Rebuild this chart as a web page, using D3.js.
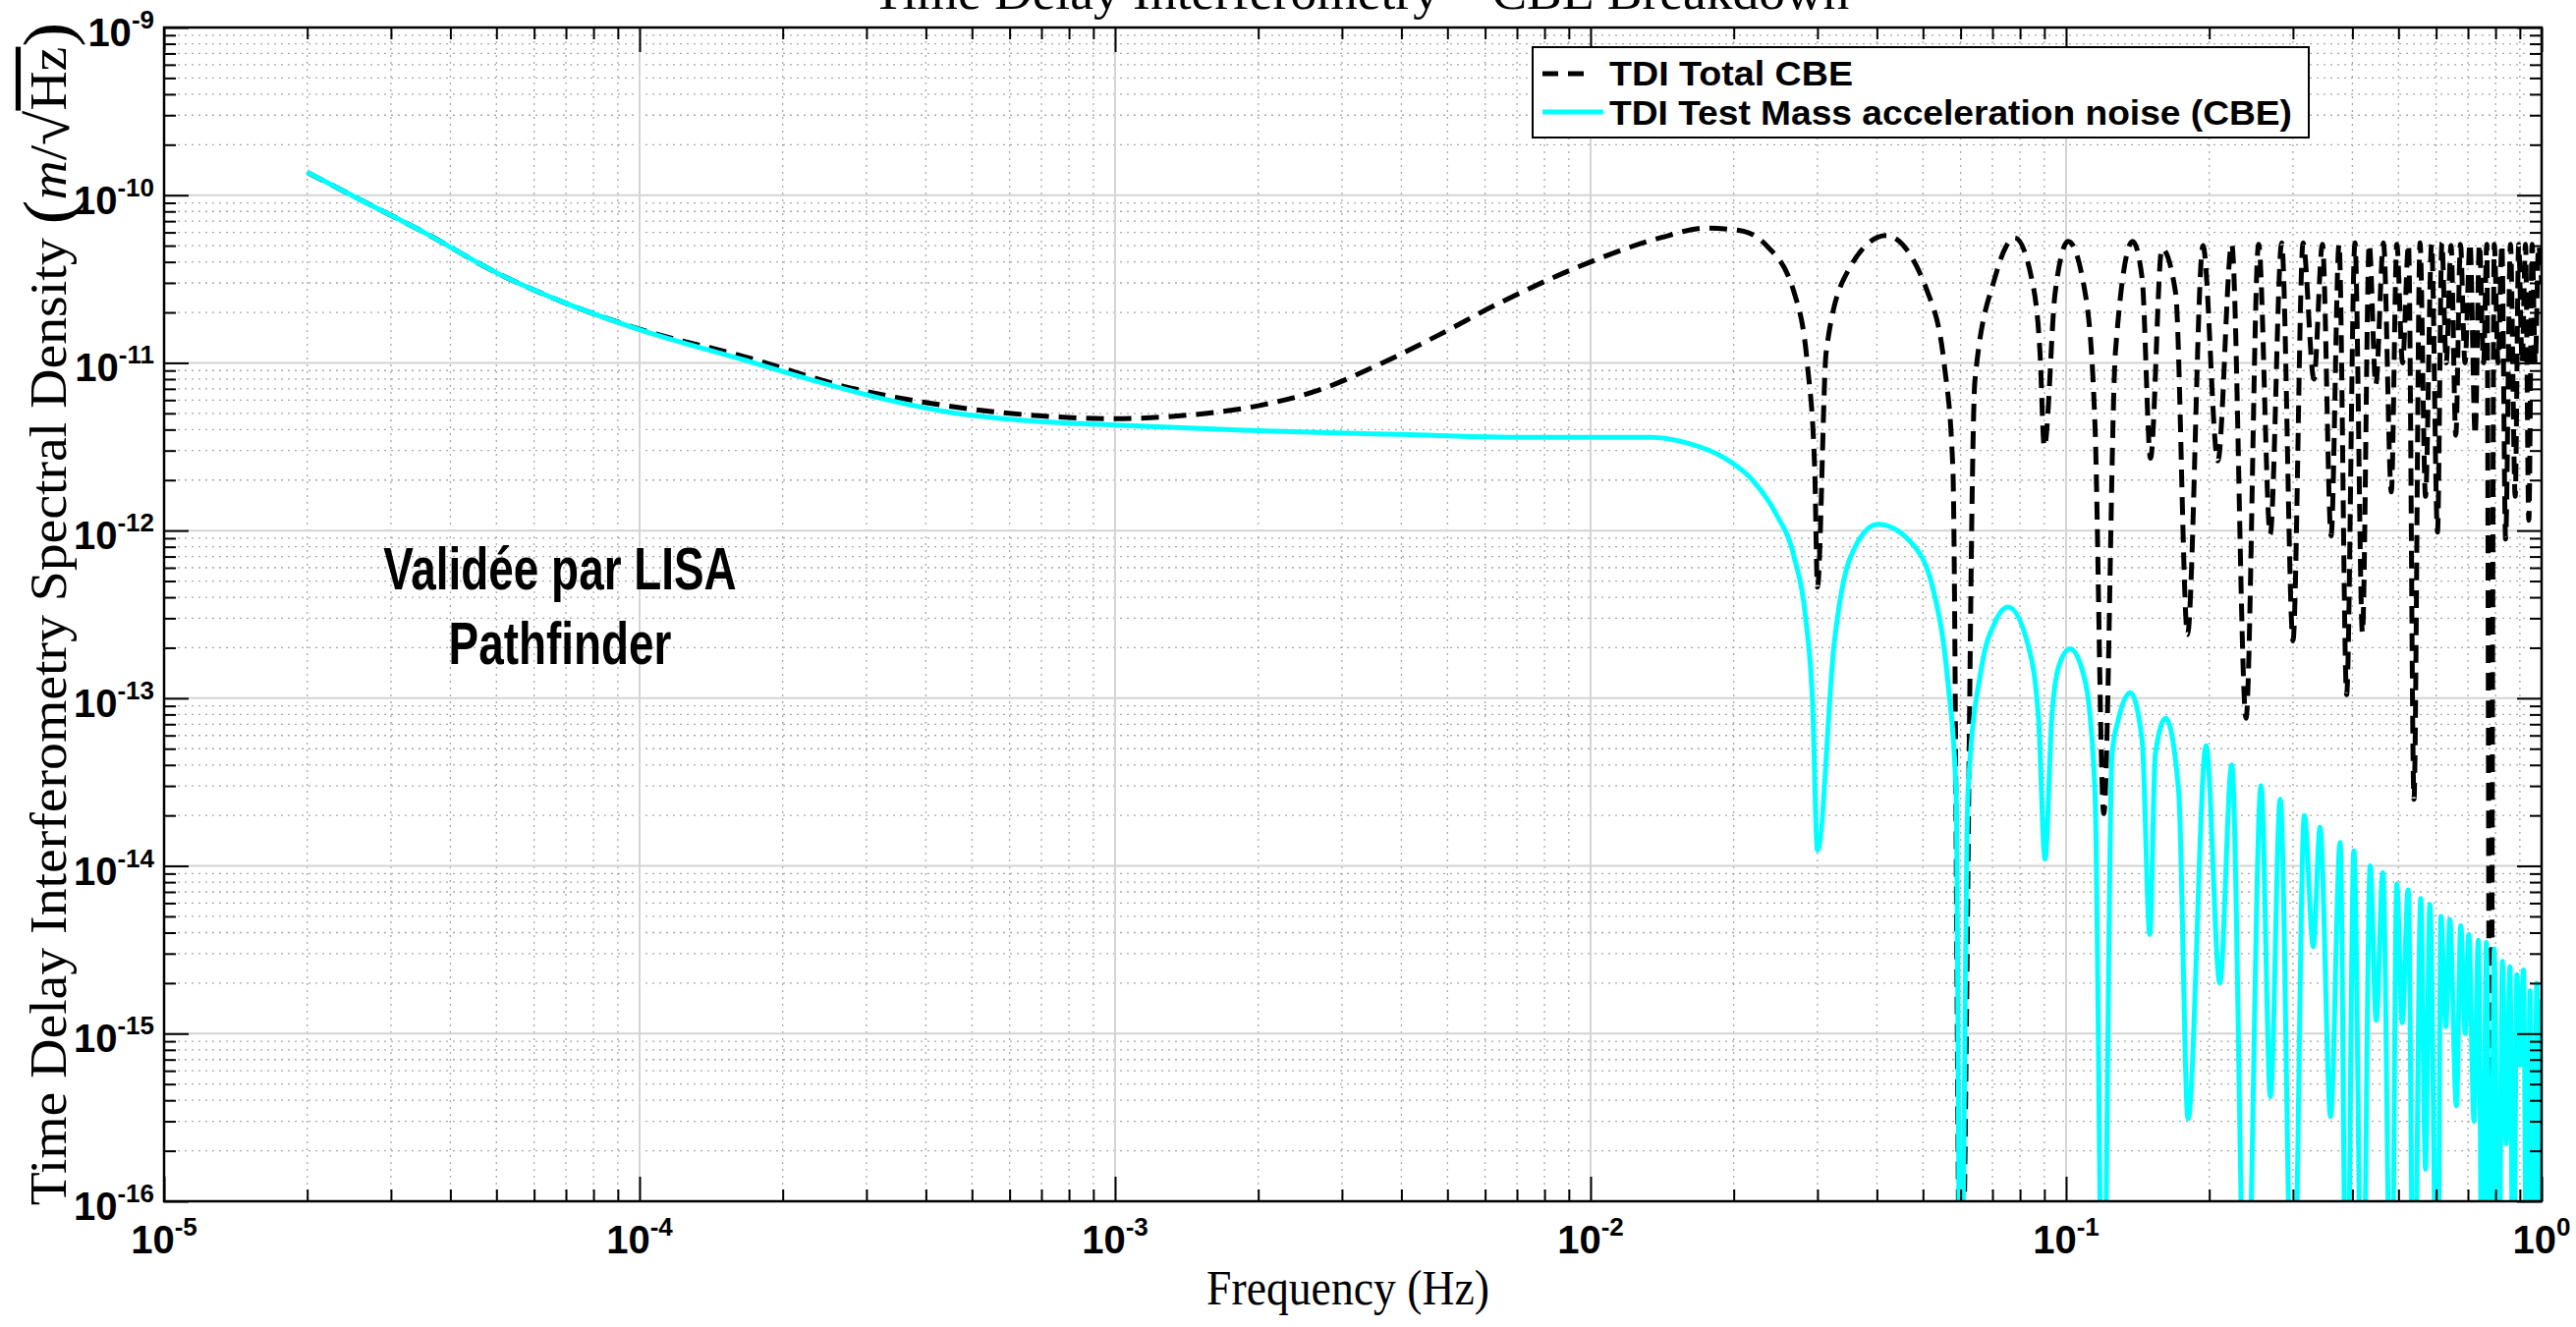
<!DOCTYPE html>
<html lang="en">
<head>
<meta charset="utf-8">
<title>Time Delay Interferometry - CBE Breakdown</title>
<script src="https://cdn.jsdelivr.net/npm/d3@7"></script>
<style>
  body { margin: 0; background: #fff; }
  svg { display: block; }
  .sans { font-family: "Liberation Sans", Arial, Helvetica, sans-serif; font-weight: bold; }
  .serif { font-family: "Liberation Serif", "Times New Roman", serif; }
</style>
</head>
<body>
<script>

// ---- data ----
var xTickLabels = ["-5", "-4", "-3", "-2", "-1", "0"];
var yTickLabels = ["-16", "-15", "-14", "-13", "-12", "-11", "-10", "-9"];
var seriesNames = ["TDI Total CBE", "TDI Test Mass acceleration noise (CBE)"];

// TDI Test Mass acceleration noise (CBE), cyan
var cyanFreq = [2.0e-5, 2.53e-5, 3.56e-5, 5.0e-5, 7.05e-5, 1.0e-4, 1.66e-4, 2.34e-4, 3.29e-4, 4.63e-4,
  6.52e-4, 1.0e-3, 2.0e-3, 4.0e-3, 7.1e-3, 1.0e-2, 1.34e-2, 1.6e-2, 1.91e-2, 2.19e-2,
  2.45e-2, 2.68e-2, 2.83e-2, 2.93e-2, 3.0e-2, 3.25e-2, 3.52e-2, 4.02e-2, 4.72e-2, 5.28e-2,
  5.64e-2, 5.87e-2, 6.0e-2, 6.22e-2, 6.64e-2, 7.08e-2, 7.55e-2, 8.32e-2, 8.75e-2, 9.03e-2,
  9.33e-2, 9.64e-2, 0.102, 0.1097, 0.115, 0.1196, 0.1249, 0.129, 0.1365, 0.1445,
  0.150, 0.154, 0.162, 0.1725, 0.1805, 0.197, 0.2105, 0.223, 0.239, 0.257,
  0.269, 0.282, 0.300, 0.317, 0.331, 0.342, 0.360, 0.377, 0.389, 0.403,
  0.420, 0.436, 0.449, 0.4635, 0.483, 0.496, 0.509, 0.524, 0.539, 0.557,
  0.570, 0.582, 0.604, 0.614, 0.629, 0.641, 0.662, 0.676, 0.691, 0.703,
  0.721, 0.736, 0.752, 0.765, 0.782, 0.795, 0.812, 0.827, 0.842, 0.858,
  0.872, 0.887, 0.902, 0.916, 0.932, 0.946, 0.962, 0.977, 0.992, 1.0];
var cyanVal = [1.37e-10, 9.7e-11, 5.9e-11, 3.45e-11, 2.25e-11, 1.58e-11, 1.04e-11, 7.8e-12, 6.05e-12, 5.0e-12,
  4.52e-12, 4.25e-12, 3.94e-12, 3.74e-12, 3.6e-12, 3.6e-12, 3.6e-12, 3.32e-12, 2.71e-12, 2.0e-12,
  1.27e-12, 6.95e-13, 3.1e-13, 9.3e-14, 1.24e-14, 2.07e-13, 6.95e-13, 1.09e-12, 8.5e-13, 4.2e-13,
  1.26e-13, 2.77e-14, 1e-17, 2.77e-14, 1.53e-13, 2.82e-13, 3.5e-13, 2.07e-13, 7.6e-14, 1.1e-14,
  7.6e-14, 1.53e-13, 1.97e-13, 1.26e-13, 2.77e-14, 1e-17, 4.6e-14, 7.6e-14, 1.08e-13, 5.6e-14,
  3.9e-15, 4.6e-14, 7.6e-14, 2.77e-14, 3.1e-16, 5.2e-14, 2.0e-15, 4.0e-14, 1e-17, 3.0e-14,
  4.2e-16, 2.5e-14, 1e-17, 2.0e-14, 3.3e-15, 1.7e-14, 3.2e-16, 1.38e-14, 1e-17, 1.23e-14,
  1e-17, 1.0e-14, 1.2e-15, 9.1e-15, 1e-17, 7.8e-15, 1.16e-15, 7.2e-15, 1e-17, 6.4e-15,
  1.55e-16, 5.9e-15, 1e-17, 5.0e-15, 1.1e-15, 4.8e-15, 3.7e-16, 4.4e-15, 1.0e-15, 3.9e-15,
  3e-16, 3.6e-15, 1e-17, 3.5e-15, 1e-17, 3.2e-15, 1e-17, 2.7e-15, 2.2e-16, 2.5e-15,
  1e-17, 2.25e-15, 6.5e-16, 2.4e-15, 1e-17, 1.8e-15, 1e-17, 2.0e-15, 1e-17, 1.6e-15];

// TDI Total CBE, black dashed
var totalFreq = [2.0e-5, 2.53e-5, 3.56e-5, 5.0e-5, 7.05e-5, 1.0e-4, 1.66e-4, 2.77e-4, 4.33e-4, 6.52e-4,
  9.95e-4, 1.39e-3, 2.0e-3, 2.73e-3, 3.65e-3, 4.78e-3, 6.38e-3, 1.0e-2, 1.4e-2, 1.75e-2,
  2.05e-2, 2.34e-2, 2.68e-2, 2.86e-2, 2.96e-2, 3.0e-2, 3.13e-2, 3.47e-2, 4.18e-2, 5.12e-2,
  5.55e-2, 5.78e-2, 6.0e-2, 6.43e-2, 7.08e-2, 7.8e-2, 8.46e-2, 8.81e-2, 9.0e-2, 9.48e-2,
  0.101, 0.1097, 0.115, 0.120, 0.127, 0.138, 0.1445, 0.1505, 0.159, 0.170,
  0.180, 0.194, 0.2085, 0.223, 0.239, 0.254, 0.2687, 0.284, 0.300, 0.315,
  0.332, 0.346, 0.3608, 0.375, 0.389, 0.405, 0.420, 0.434, 0.448, 0.465,
  0.483, 0.496, 0.510, 0.525, 0.539, 0.555, 0.570, 0.587, 0.604, 0.617,
  0.630, 0.645, 0.660, 0.675, 0.690, 0.707, 0.725, 0.740, 0.755, 0.767,
  0.780, 0.795, 0.810, 0.825, 0.840, 0.860, 0.880, 0.895, 0.910, 0.925,
  0.940, 0.955, 0.970, 0.985, 1.0];
var totalVal = [1.37e-10, 9.7e-11, 5.9e-11, 3.45e-11, 2.25e-11, 1.59e-11, 1.09e-11, 7.1e-12, 5.6e-12, 4.9e-12,
  4.65e-12, 4.85e-12, 5.55e-12, 7.0e-12, 1.0e-11, 1.46e-11, 2.25e-11, 4.0e-11, 5.57e-11, 6.36e-11,
  6.17e-11, 5.03e-11, 2.62e-11, 9.5e-12, 2.33e-12, 4.6e-13, 1.17e-11, 3.5e-11, 5.74e-11, 2.62e-11,
  9.5e-12, 2.33e-12, 1e-17, 7.8e-12, 3.2e-11, 5.57e-11, 3.2e-11, 1.17e-11, 3.16e-12, 2.6e-11,
  5.3e-11, 2.6e-11, 4.3e-12, 2.05e-14, 1.17e-11, 5.3e-11, 3.2e-11, 2.7e-12, 4.8e-11, 2.6e-11,
  2.4e-13, 5.0e-11, 2.6e-12, 5.1e-11, 7.6e-14, 5.1e-11, 9.5e-13, 5.2e-11, 2.2e-13, 5.2e-11,
  8e-12, 5.1e-11, 9.3e-13, 5.1e-11, 1.05e-13, 5.2e-11, 2.45e-13, 5.1e-11, 7.4e-12, 5.2e-11,
  1.7e-12, 5.1e-11, 1e-11, 5.1e-11, 2.5e-14, 5.2e-11, 1.6e-12, 5.1e-11, 9.8e-13, 5.2e-11,
  1e-11, 5.0e-11, 3.7e-12, 5.1e-11, 1e-11, 5.2e-11, 3.7e-12, 5.1e-11, 1e-11, 5.1e-11,
  1e-17, 5.1e-11, 1e-11, 5.1e-11, 8.9e-13, 5.1e-11, 1.6e-12, 5.1e-11, 1e-11, 5.1e-11,
  1.15e-12, 5.1e-11, 1e-11, 5.0e-11, 3e-11];

// ---- layout ----
var width = 2622, height = 1351;
var plot = {left: 167, right: 2587, top: 28, bottom: 1223};

var svg = d3.select("body").append("svg")
  .attr("width", width).attr("height", height)
  .style("background", "#fff");

var x = d3.scaleLog().domain([1e-5, 1]).range([plot.left, plot.right]);
var y = d3.scaleLog().domain([1e-16, 1e-9]).range([plot.bottom, plot.top]);

function isDecade(d) { return Math.abs(Math.log10(d) - Math.round(Math.log10(d))) < 1e-9; }
var xMajor = x.ticks().filter(isDecade);
var xMinor = x.ticks().filter(function(d) { return !isDecade(d); });
var yMajor = y.ticks().filter(isDecade);
var yMinor = y.ticks().filter(function(d) { return !isDecade(d); });

// grid
var grid = svg.append("g");
grid.selectAll(".vmin").data(xMinor).enter().append("line")
  .attr("x1", x).attr("x2", x).attr("y1", plot.top).attr("y2", plot.bottom)
  .attr("stroke", "#a8a8a8").attr("stroke-width", 1.3).attr("stroke-dasharray", "2,5");
grid.selectAll(".hmin").data(yMinor).enter().append("line")
  .attr("y1", y).attr("y2", y).attr("x1", plot.left).attr("x2", plot.right)
  .attr("stroke", "#a8a8a8").attr("stroke-width", 1.3).attr("stroke-dasharray", "2,5");
grid.selectAll(".vmaj").data(xMajor).enter().append("line")
  .attr("x1", x).attr("x2", x).attr("y1", plot.top).attr("y2", plot.bottom)
  .attr("stroke", "#d4d4d4").attr("stroke-width", 2);
grid.selectAll(".hmaj").data(yMajor).enter().append("line")
  .attr("y1", y).attr("y2", y).attr("x1", plot.left).attr("x2", plot.right)
  .attr("stroke", "#d4d4d4").attr("stroke-width", 2);

// curves
svg.append("clipPath").attr("id", "clip").append("rect")
  .attr("x", plot.left).attr("y", plot.top)
  .attr("width", plot.right - plot.left).attr("height", plot.bottom - plot.top);

var line = d3.line()
  .x(function(d) { return x(d[0]); })
  .y(function(d) { return y(d[1]); })
  .curve(d3.curveMonotoneX);

var totalData = d3.zip(totalFreq, totalVal);
var cyanData = d3.zip(cyanFreq, cyanVal);

svg.append("path").datum(totalData)
  .attr("clip-path", "url(#clip)")
  .attr("d", line).attr("fill", "none")
  .attr("stroke", "#000").attr("stroke-width", 5)
  .attr("stroke-dasharray", "18,10");

svg.append("path").datum(cyanData)
  .attr("clip-path", "url(#clip)")
  .attr("d", line).attr("fill", "none")
  .attr("stroke", "#00ffff").attr("stroke-width", 5)
  .attr("stroke-linejoin", "round");

// axes: inward ticks on all four sides
function ticks(gen, tr, vals, len) {
  svg.append("g").attr("transform", tr)
    .call(gen.tickValues(vals).tickSize(-len).tickSizeOuter(0).tickFormat(""))
    .call(function(g) { g.select(".domain").remove(); })
    .selectAll("line").attr("stroke", "#000").attr("stroke-width", 2);
}
ticks(d3.axisBottom(x), "translate(0," + plot.bottom + ")", xMinor, 12);
ticks(d3.axisBottom(x), "translate(0," + plot.bottom + ")", xMajor, 25);
ticks(d3.axisTop(x), "translate(0," + plot.top + ")", xMinor, 12);
ticks(d3.axisTop(x), "translate(0," + plot.top + ")", xMajor, 25);
ticks(d3.axisLeft(y), "translate(" + plot.left + ",0)", yMinor, 12);
ticks(d3.axisLeft(y), "translate(" + plot.left + ",0)", yMajor, 25);
ticks(d3.axisRight(y), "translate(" + plot.right + ",0)", yMinor, 12);
ticks(d3.axisRight(y), "translate(" + plot.right + ",0)", yMajor, 25);

svg.append("rect")
  .attr("x", plot.left).attr("y", plot.top)
  .attr("width", plot.right - plot.left).attr("height", plot.bottom - plot.top)
  .attr("fill", "none").attr("stroke", "#000").attr("stroke-width", 2.5);

// tick labels 10^n
xMajor.forEach(function(d, i) {
  var t = svg.append("text").attr("class", "sans")
    .attr("x", x(d)).attr("y", 1276).attr("text-anchor", "middle");
  t.append("tspan").style("font-size", "40px").text("10");
  t.append("tspan").style("font-size", "26px").attr("dy", -18).text(xTickLabels[i]);
});
yMajor.forEach(function(d, i) {
  var t = svg.append("text").attr("class", "sans")
    .attr("x", plot.left - 10).attr("y", y(d) + 19).attr("text-anchor", "end");
  t.append("tspan").style("font-size", "40px").text("10");
  t.append("tspan").style("font-size", "26px").attr("dy", -18).text(yTickLabels[i]);
});

// serif labels, stretched to the measured widths
function fit(sel, cx, cy, rot, target) {
  var w = sel.node().getComputedTextLength();
  sel.attr("transform", "translate(" + cx + "," + cy + ") rotate(" + rot + ") scale(" + (target / w) + ",1)");
}

var title = svg.append("text").attr("class", "serif")
  .attr("text-anchor", "middle").style("font-size", "50px")
  .text("Time Delay Interferometry \u2013 CBE Breakdown");
fit(title, 1385, 9, 0, 995);

var xlab = svg.append("text").attr("class", "serif")
  .attr("text-anchor", "middle").style("font-size", "50px")
  .text("Frequency (Hz)");
fit(xlab, 1372, 1328, 0, 288);

var ylab = svg.append("text").attr("class", "serif")
  .attr("text-anchor", "middle").style("font-size", "52px");
ylab.append("tspan").text("Time Delay Interferometry Spectral Density ");
ylab.append("tspan").style("font-size", "70px").attr("dy", 5).text("(");
ylab.append("tspan").style("font-style", "italic").attr("dy", -5).text("m");
ylab.append("tspan").text("/");
ylab.append("tspan").style("font-size", "60px").attr("dy", 3).text("\u221A");
ylab.append("tspan").style("text-decoration", "overline").attr("dy", -3).text("Hz");
ylab.append("tspan").style("font-size", "70px").attr("dy", 5).text(")");
fit(ylab, 67, 625, -90, 1205);

// annotation (condensed bold)
var note = svg.append("text").attr("class", "sans")
  .attr("text-anchor", "middle").style("font-size", "62px")
  .attr("transform", "translate(570,0) scale(0.74,1)");
note.append("tspan").attr("x", 0).attr("y", 600).text("Valid\u00e9e par LISA");
note.append("tspan").attr("x", 0).attr("y", 676).text("Pathfinder");

// legend
var legend = svg.append("g");
legend.append("rect")
  .attr("x", 1560).attr("y", 48).attr("width", 790).attr("height", 92)
  .attr("fill", "#fff").attr("stroke", "#000").attr("stroke-width", 2);
legend.append("line")
  .attr("x1", 1570).attr("x2", 1618).attr("y1", 75).attr("y2", 75)
  .attr("stroke", "#000").attr("stroke-width", 5).attr("stroke-dasharray", "16,10");
legend.append("line")
  .attr("x1", 1570).attr("x2", 1632).attr("y1", 114).attr("y2", 114)
  .attr("stroke", "#00ffff").attr("stroke-width", 5);
legend.append("text").attr("class", "sans").style("font-size", "35px")
  .attr("x", 1638).attr("y", 87)
  .attr("textLength", 248).attr("lengthAdjust", "spacingAndGlyphs")
  .text(seriesNames[0]);
legend.append("text").attr("class", "sans").style("font-size", "35px")
  .attr("x", 1638).attr("y", 127)
  .attr("textLength", 695).attr("lengthAdjust", "spacingAndGlyphs")
  .text(seriesNames[1]);

</script>
</body>
